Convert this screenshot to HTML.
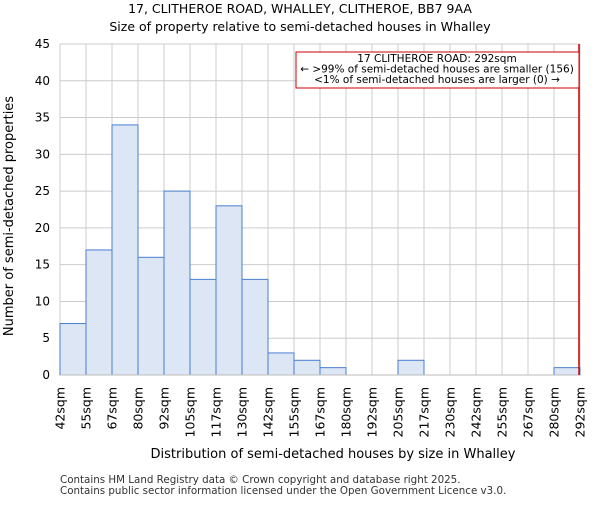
<!DOCTYPE html>
<html><head><meta charset="utf-8"><style>body{margin:0;background:#fff}svg{font-family:"DejaVu Sans","Liberation Sans",sans-serif}</style></head>
<body>
<svg width="600" height="500">
<g id="grid"></g>
<g id="bars"></g>
<g id="axes"></g>
<text x="300" y="13" text-anchor="middle" font-size="12.5">17, CLITHEROE ROAD, WHALLEY, CLITHEROE, BB7 9AA</text>
<text x="300" y="31" text-anchor="middle" font-size="12.5">Size of property relative to semi-detached houses in Whalley</text>
<text x="333" y="458" text-anchor="middle" font-size="13">Distribution of semi-detached houses by size in Whalley</text>
<text transform="translate(13,216) rotate(-90)" text-anchor="middle" font-size="13">Number of semi-detached properties</text>
<text x="60" y="483" font-size="10.3" fill="#333">Contains HM Land Registry data © Crown copyright and database right 2025.</text>
<text x="60" y="494" font-size="10.3" fill="#333">Contains public sector information licensed under the Open Government Licence v3.0.</text>
<line x1="579" y1="44" x2="579" y2="375" stroke="#cc0000" stroke-width="1.5"/>
<rect x="296" y="52" width="283" height="36" fill="#fff" stroke="#cc0000"/>
<text x="437" y="62" text-anchor="middle" font-size="10.5">17 CLITHEROE ROAD: 292sqm</text>
<text x="437" y="72.5" text-anchor="middle" font-size="10.5">← &gt;99% of semi-detached houses are smaller (156)</text>
<text x="437" y="83" text-anchor="middle" font-size="10.5">&lt;1% of semi-detached houses are larger (0) →</text>
</svg>
<script>
const binLabels=["42sqm","55sqm","67sqm","80sqm","92sqm","105sqm","117sqm","130sqm","142sqm","155sqm","167sqm","180sqm","192sqm","205sqm","217sqm","230sqm","242sqm","255sqm","267sqm","280sqm","292sqm"];
const counts=[7,17,34,16,25,13,23,13,3,2,1,0,0,2,0,0,0,0,0,1];
const yTicks=[0,5,10,15,20,25,30,35,40,45];
const X0=60,X1=580,Y0=375,Y1=44,YMAX=45;
const ns="http://www.w3.org/2000/svg";
const xs=i=>X0+i*(X1-X0)/counts.length;
const ys=v=>Y0-v*(Y0-Y1)/YMAX;
function mk(t,a,p){const e=document.createElementNS(ns,t);for(const k in a)e.setAttribute(k,a[k]);p.appendChild(e);return e;}
const grid=document.getElementById('grid'),bars=document.getElementById('bars'),axes=document.getElementById('axes');
yTicks.forEach(v=>{
 const l=mk('line',{x1:X0,x2:X1,y1:ys(v),y2:ys(v),stroke:'#ccc'},grid);
 
 
 const t=mk('text',{x:X0-10,y:ys(v)+4,'text-anchor':'end','font-size':'12'},axes);
 t.textContent=v;
 
 
});
binLabels.forEach((s,i)=>{
 const l=mk('line',{x1:xs(i),x2:xs(i),y1:Y1,y2:Y0,stroke:'#ccc'},grid);
 
 
 const g=mk('g',{transform:'translate('+(xs(i)+4.5)+','+(Y0+12)+') rotate(-90)'},axes);
 const t=mk('text',{x:0,y:0,'text-anchor':'end','font-size':'12.5'},g);
 t.textContent=s;
 
 
});
counts.forEach((c,i)=>{
 if(c<=0)return;
 const r=mk('rect',{x:xs(i),y:ys(c),width:xs(i+1)-xs(i),height:Y0-ys(c),fill:'#dce6f4',stroke:'#4a7fd0','stroke-width':1},bars);
 
 
});
const base=mk('line',{x1:X0,x2:X1,y1:Y0,y2:Y0,stroke:'#bbb'},axes);


</script>
</body></html>
